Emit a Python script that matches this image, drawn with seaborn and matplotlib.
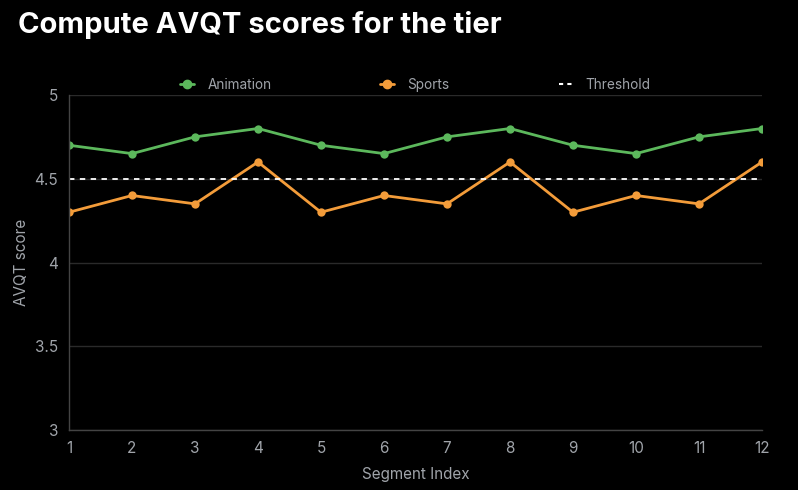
import numpy as np
import pandas as pd
import seaborn as sns
import matplotlib.pyplot as plt

segments = list(range(1, 13))
animation = [4.7, 4.65, 4.75, 4.8, 4.7, 4.65, 4.75, 4.8, 4.7, 4.65, 4.75, 4.8]
sports = [4.3, 4.4, 4.35, 4.6, 4.3, 4.4, 4.35, 4.6, 4.3, 4.4, 4.35, 4.6]
threshold = 4.5
y_ticks = [3, 3.5, 4, 4.5, 5]
y_labels = ["3", "3.5", "4", "4.5", "5"]

df = pd.DataFrame({
    "Segment": segments * 2,
    "Score": animation + sports,
    "Series": ["Animation"] * 12 + ["Sports"] * 12,
})

sns.set_style("dark")
plt.rcParams["font.family"] = ["Inter", "DejaVu Sans"]

grey = "#a0a4aa"
fig = plt.figure(figsize=(7.98, 4.9), dpi=100, facecolor="black")
ax = fig.add_axes([69 / 798, 1 - 430 / 490, (762 - 69) / 798, (430 - 95) / 490])
ax.set_facecolor("black")

palette = {"Animation": "#5cb85c", "Sports": "#f39c3a"}
sns.lineplot(data=df, x="Segment", y="Score", hue="Series", palette=palette,
             marker="o", markersize=6, markeredgewidth=0, linewidth=2,
             ax=ax, legend=False)
ax.axhline(threshold, color="white", linestyle=(0, (3, 3)), linewidth=1.3)

ax.set_xlim(1, 12)
ax.set_ylim(3, 5)
ax.set_xticks(segments)
ax.set_yticks(y_ticks)
ax.set_yticklabels(y_labels)
ax.grid(axis="y", color="#2a2a2a", linewidth=1)
ax.grid(axis="x", visible=False)
for side in ["top", "right"]:
    ax.spines[side].set_visible(False)
for side in ["left", "bottom"]:
    ax.spines[side].set_visible(True)
    ax.spines[side].set_color("#444444")
    ax.spines[side].set_linewidth(1)
ax.tick_params(colors=grey, labelsize=11, length=0, pad=8)
ax.set_xlabel("Segment Index", color=grey, fontsize=11, labelpad=8)
ax.set_ylabel("AVQT score", color=grey, fontsize=11, labelpad=4)

handles = [
    plt.Line2D([], [], color=palette["Animation"], marker="o", markersize=6, linewidth=2),
    plt.Line2D([], [], color=palette["Sports"], marker="o", markersize=6, linewidth=2),
    plt.Line2D([], [], color="white", linestyle=(0, (2, 2)), linewidth=1.5),
]
leg = ax.legend(handles, ["Animation", "Sports", "Threshold"], ncol=3,
                loc="center", bbox_to_anchor=(0.5, 1 + 10 / 335), frameon=False,
                handlelength=1.0, handletextpad=1.0, columnspacing=8.0,
                fontsize=9.8, labelcolor=grey, borderaxespad=0)

fig.text(18 / 798, 1 - 25 / 490, "Compute AVQT scores for the tier", color="white",
         fontsize=21, fontweight="bold", va="center", ha="left")

fig.savefig("out.png", dpi=100, facecolor="black")
